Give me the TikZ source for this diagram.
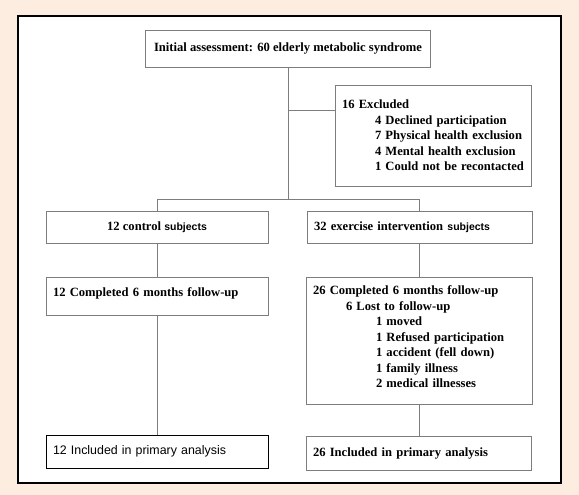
\documentclass[tikz,border=0pt]{standalone}
\usepackage{fontspec}
\setmainfont{Liberation Serif}
\newfontfamily\arialfont{Liberation Sans}
\begin{document}
\begin{tikzpicture}[x=1pt,y=-1pt,
  box/.style={draw=boxgray,line width=0.8pt,rectangle,inner ysep=0pt,inner xsep=7pt,font=\fontsize{12.6}{15.5}\selectfont\bfseries},
  conn/.style={draw=boxgray,line width=0.8pt}]
\definecolor{bgcream}{RGB}{253,237,225}
\definecolor{boxgray}{RGB}{125,125,125}
\fill[bgcream] (0,0) rectangle (579,495);
\useasboundingbox (0,0) rectangle (579,495);
\filldraw[fill=white,draw=black,line width=1.4pt] (18,16) rectangle (561,483);

\node[box,minimum width=285pt,minimum height=37pt] (init) at (288,48.5) {Initial assessment: 60 elderly metabolic syndrome};

\node[box,minimum width=196pt,minimum height=101pt,text width=182pt,align=left] (excl) at (433,135.5)
 {\mbox{16 Excluded}\\
  \mbox{\hspace*{33pt}4 Declined participation}\\
  \mbox{\hspace*{33pt}7 Physical health exclusion}\\
  \mbox{\hspace*{33pt}4 Mental health exclusion}\\
  \mbox{\hspace*{33pt}1 Could not be recontacted}};

\node[box,minimum width=222pt,minimum height=32pt] (ctrl) at (157,227) {12 control {\arialfont\bfseries\fontsize{10.5}{12}\selectfont subjects}};
\node[box,minimum width=225pt,minimum height=32pt,text width=211pt,align=left] (exer) at (419.5,227) {\mbox{32 exercise intervention {\arialfont\bfseries\fontsize{10.5}{12}\selectfont subjects}}};

\node[box,minimum width=222pt,minimum height=38pt,text width=208pt,align=left] (comp1) at (157,296) {12 Completed 6 months follow-up\rule[-8pt]{0pt}{1pt}};

\node[box,minimum width=226pt,minimum height=127pt,text width=212pt,align=left] (comp2) at (419,340.5)
 {\mbox{26 Completed 6 months follow-up}\\
  \mbox{\hspace*{33pt}6 Lost to follow-up}\\
  \mbox{\hspace*{63pt}1 moved}\\
  \mbox{\hspace*{63pt}1 Refused participation}\\
  \mbox{\hspace*{63pt}1 accident (fell down)}\\
  \mbox{\hspace*{63pt}1 family illness}\\
  \mbox{\hspace*{63pt}2 medical illnesses}\rule[-7pt]{0pt}{1pt}};

\node[box,draw=black,minimum width=222pt,minimum height=33pt,text width=208pt,align=left,font=\fontsize{12.4}{15}\selectfont\arialfont] (incl1) at (157,451.5) {12 Included in primary analysis};
\node[box,minimum width=225pt,minimum height=34pt,text width=211pt,align=left] (incl2) at (418.5,453) {26 Included in primary analysis};

\coordinate (split) at (288,199);
\coordinate (br) at (288,110);
\draw[conn] (init.south) -- (split);
\draw[conn] (br) -- (br -| excl.west);
\draw[conn] (ctrl.north |- split) -- (comp2.north |- split);
\draw[conn] (ctrl.north |- split) -- (ctrl.north);
\draw[conn] (comp2.north |- split) -- (comp2.north |- exer.north);
\draw[conn] (ctrl.south) -- (comp1.north);
\draw[conn] (comp2.north |- exer.south) -- (comp2.north);
\draw[conn] (comp1.south) -- (incl1.north);
\draw[conn] (comp2.south) -- (comp2.south |- incl2.north);
\end{tikzpicture}
\end{document}
